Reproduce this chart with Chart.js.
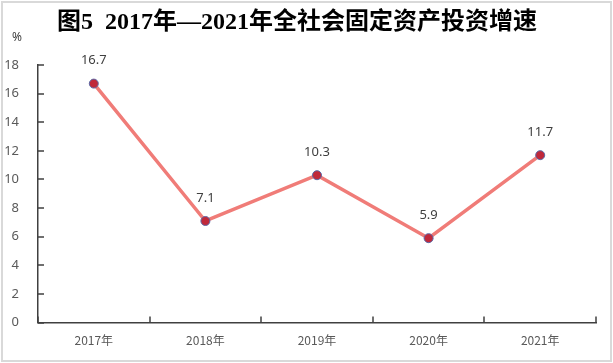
<!DOCTYPE html>
<html>
<head>
<meta charset="utf-8">
<script src="https://cdn.jsdelivr.net/npm/chart.js@4"></script>
<style>
  html, body { margin: 0; padding: 0; background: #fff; }
  #wrap { width: 613px; height: 363px; }
</style>
</head>
<body>
<div id="wrap"><canvas id="growthChart" width="613" height="363"></canvas></div>
<script>
// chart data
const years = ["2017年", "2018年", "2019年", "2020年", "2021年"];
const growthRates = [16.7, 7.1, 10.3, 5.9, 11.7];
const yTicks = [0, 2, 4, 6, 8, 10, 12, 14, 16, 18];

const titleText = "图5  2017年—2021年全社会固定资产投资增速";
const unitText = "%";

// frame, title, inward ticks and value labels
const decorPlugin = {
  id: "decor",
  beforeDraw(chart) {
    const c = chart.ctx;
    c.save();
    c.fillStyle = "#fff";
    c.fillRect(0, 0, chart.width, chart.height);
    c.strokeStyle = "#d9d9d9";
    c.lineWidth = 2;
    c.strokeRect(2, 2, chart.width - 4, chart.height - 4);
    c.restore();
  },
  afterDraw(chart) {
    const c = chart.ctx;
    const xs = chart.scales.x, ys = chart.scales.y;
    c.save();
    // title
    c.fillStyle = "#000";
    c.font = "bold 24px 'Liberation Serif', 'Noto Sans CJK SC', serif";
    c.textAlign = "center";
    c.textBaseline = "middle";
    c.fillText(titleText, 297, 23);
    // unit
    c.fillStyle = "#404040";
    c.font = "12px 'Noto Sans', sans-serif";
    c.fillText(unitText, 17, 38);

    // inward ticks
    c.strokeStyle = "#404040";
    c.lineWidth = 1.5;
    c.beginPath();
    for (let i = 0; i <= years.length; i++) {
      const x = Math.round(xs.getPixelForValue(i - 0.5));
      c.moveTo(x, ys.bottom);
      c.lineTo(x, ys.bottom - 6);
    }
    yTicks.forEach(v => {
      const y = Math.round(ys.getPixelForValue(v));
      c.moveTo(xs.left, y);
      c.lineTo(xs.left + 6, y);
    });
    c.stroke();

    // value labels
    c.fillStyle = "#404040";
    c.font = "13px 'Noto Sans', sans-serif";
    const meta = chart.getDatasetMeta(0);
    meta.data.forEach((pt, i) => {
      c.fillText(growthRates[i].toFixed(1), pt.x, pt.y - 23);
    });
    c.restore();
  }
};

new Chart(document.getElementById("growthChart"), {
  type: "line",
  data: {
    labels: years,
    datasets: [{
      data: growthRates,
      borderColor: "#f07c78",
      borderWidth: 3.5,
      pointRadius: 4.5,
      pointBackgroundColor: "#c0283a",
      pointBorderColor: "#5b6aa8",
      pointBorderWidth: 1,
      tension: 0
    }]
  },
  options: {
    responsive: false,
    animation: false,
    events: [],
    layout: { padding: { top: 65, right: 17, bottom: 12, left: 0 } },
    plugins: {
      legend: { display: false },
      title: { display: false },
      tooltip: { enabled: false }
    },
    scales: {
      x: {
        offset: true,
        grid: { display: false },
        border: { display: true, color: "#404040", width: 1.5 },
        ticks: {
          color: "#595959",
          font: { family: "'Noto Sans CJK SC', sans-serif", size: 12 },
          padding: 3
        }
      },
      y: {
        min: 0,
        max: 18,
        afterBuildTicks(scale) {
          scale.ticks = yTicks.map(v => ({ value: v }));
        },
        afterFit(scale) { scale.width = 38; },
        grid: { display: false },
        border: { display: true, color: "#404040", width: 1.5 },
        ticks: {
          color: "#595959",
          font: { family: "'Noto Sans', sans-serif", size: 13 },
          padding: 11
        }
      }
    }
  },
  plugins: [decorPlugin]
});
</script>
</body>
</html>
